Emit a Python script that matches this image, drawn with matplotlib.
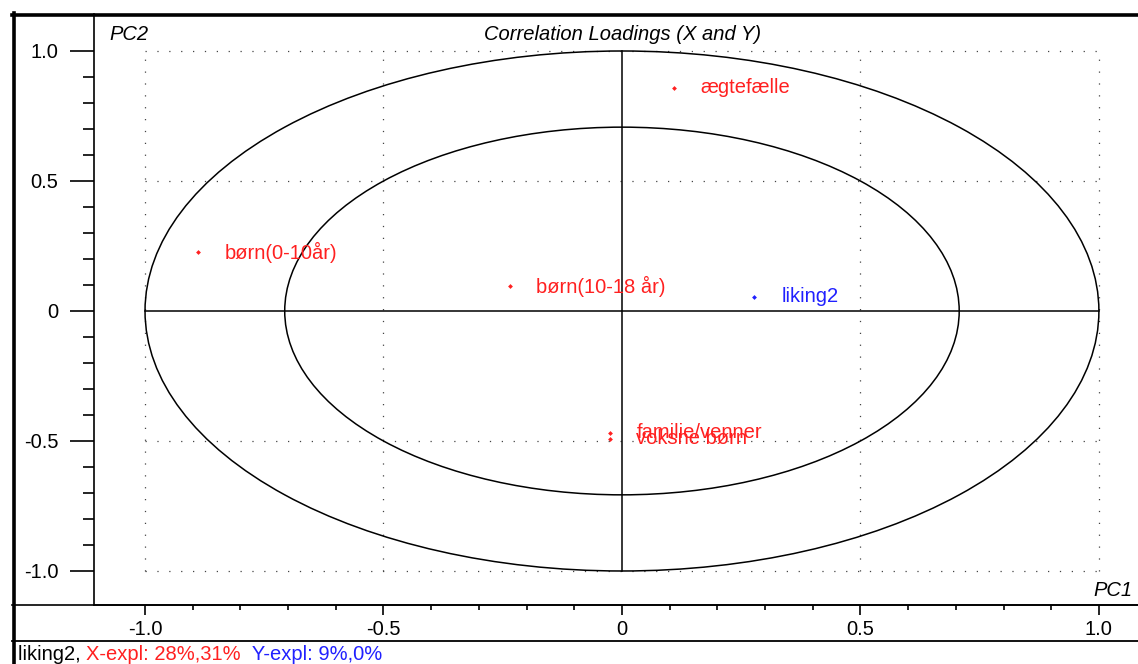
import numpy as np
import matplotlib
matplotlib.use("Agg")
import matplotlib.pyplot as plt
from matplotlib.patches import Ellipse
from matplotlib.lines import Line2D
from matplotlib.ticker import FixedLocator, FixedFormatter

plt.rcParams['font.family'] = ['Liberation Sans', 'DejaVu Sans']

# ---- data ----
x_labels = ["ægtefælle", "børn(0-10år)", "børn(10-18 år)", "familie/venner", "voksne børn"]
x_pc1 = [0.109, -0.889, -0.235, -0.025, -0.025]
x_pc2 = [0.858, 0.227, 0.096, -0.469, -0.492]

y_labels = ["liking2"]
y_pc1 = [0.277]
y_pc2 = [0.054]

tick_values = [-1.0, -0.5, 0.0, 0.5, 1.0]
tick_labels = ["-1.0", "-0.5", "0", "0.5", "1.0"]
minor_values = [-0.9, -0.8, -0.7, -0.6, -0.4, -0.3, -0.2, -0.1,
                0.1, 0.2, 0.3, 0.4, 0.6, 0.7, 0.8, 0.9]
grid_values = [-1.0, -0.5, 0.5, 1.0]
ellipse_radii = [1.0, np.sqrt(0.5)]

title = "Correlation Loadings (X and Y)"
status_parts = [("liking2, ", "black"), ("X-expl: 28%,31%", "#ff2020"), ("  Y-expl: 9%,0%", "#2020ff")]

W, H = 1138, 664
fig = plt.figure(figsize=(W / 100, H / 100), dpi=100)

def fx(px):
    return px / W

def fy(py):
    return 1 - py / H

left_px, right_px, top_px, bot_px = 94, 1138, 14, 605
ax = fig.add_axes([fx(left_px), fy(bot_px), fx(right_px) - fx(left_px), fy(top_px) - fy(bot_px)])
ax.set_xlim(-1.107, 1.082)
ax.set_ylim(-1.1308, 1.1423)

for s in ["top", "right"]:
    ax.spines[s].set_visible(False)
for s in ["left", "bottom"]:
    ax.spines[s].set_linewidth(1.2)

red = "#ff2020"
blue = "#2020ff"
fs = 14.5

# dotted grid
for g in grid_values:
    ax.plot([g, g], [-1, 1], color="#444444", lw=0.9, linestyle=(0, (1, 8.5)), zorder=1)
    ax.plot([-1, 1], [g, g], color="#444444", lw=0.9, linestyle=(0, (1, 8.5)), zorder=1)

# ellipses
for r in ellipse_radii:
    ax.add_patch(Ellipse((0, 0), 2 * r, 2 * r, fill=False, edgecolor="black", lw=1.1, zorder=2))

# axes lines
ax.plot([-1, 1], [0, 0], color="black", lw=1.1, zorder=2)
ax.plot([0, 0], [-1, 1], color="black", lw=1.1, zorder=2)

# points
ax.scatter(x_pc1, x_pc2, marker="D", s=6, color=red, zorder=3, linewidths=0)
ax.scatter(y_pc1, y_pc2, marker="D", s=6, color=blue, zorder=3, linewidths=0)
for lab, xv, yv in zip(x_labels, x_pc1, x_pc2):
    ax.annotate(lab, (xv, yv), xytext=(19, 0), textcoords="offset points",
                color=red, fontsize=fs, va="center", ha="left", zorder=4)
for lab, xv, yv in zip(y_labels, y_pc1, y_pc2):
    ax.annotate(lab, (xv, yv), xytext=(20, 0), textcoords="offset points",
                color=blue, fontsize=fs, va="center", ha="left", zorder=4)

# ticks
ax.xaxis.set_major_locator(FixedLocator(tick_values))
ax.xaxis.set_major_formatter(FixedFormatter(tick_labels))
ax.yaxis.set_major_locator(FixedLocator(tick_values))
ax.yaxis.set_major_formatter(FixedFormatter(tick_labels))
ax.xaxis.set_minor_locator(FixedLocator(minor_values))
ax.yaxis.set_minor_locator(FixedLocator(minor_values))
ax.tick_params(axis="y", which="major", length=17, width=1.2, pad=8.5, labelsize=fs, colors="black")
ax.tick_params(axis="y", which="minor", length=8, width=1.2)
ax.tick_params(axis="x", which="major", length=7, width=1.2, pad=3.5, labelsize=fs)
ax.tick_params(axis="x", which="minor", length=3.6, width=1.2)

# titles
fig.text(fx(623), fy(35), title, fontsize=fs, style="italic", ha="center", va="center")
fig.text(fx(109), fy(35), "PC2", fontsize=fs, style="italic", ha="left", va="center")
fig.text(fx(1133), fy(591), "PC1", fontsize=fs, style="italic", ha="right", va="center")

# frame lines
fig.add_artist(Line2D([fx(12), fx(W)], [fy(605), fy(605)], color="black", lw=1.2, transform=fig.transFigure))
fig.add_artist(Line2D([fx(12), fx(W)], [fy(641), fy(641)], color="black", lw=1.3, transform=fig.transFigure))
fig.add_artist(Line2D([fx(13.5), fx(13.5)], [fy(13), fy(H)], color="black", lw=2.6, transform=fig.transFigure))
fig.add_artist(Line2D([fx(12), fx(W)], [fy(15), fy(15)], color="black", lw=2.6, transform=fig.transFigure))

# status bar
renderer = fig.canvas.get_renderer()
xpos = 18
for txt, col in status_parts:
    t = fig.text(fx(xpos), fy(654), txt, fontsize=fs, color=col, ha="left", va="center")
    bb = t.get_window_extent(renderer=renderer)
    xpos += bb.width

fig.savefig("out.png", dpi=100)
